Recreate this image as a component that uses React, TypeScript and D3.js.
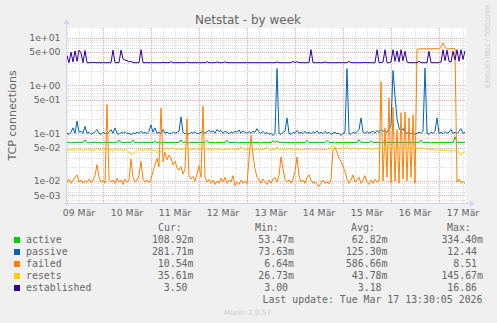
import React from "react";
import * as d3 from "d3";

const W = 497;
const H = 323;
const PL = 66, PT = 28, PW = 400, PH = 175;

const START = new Date(2026, 2, 9, 5, 30);
const END = new Date(2026, 2, 17, 13, 30);
const Y_MIN = 3.48e-3;
const Y_MAX = 15.96;

const seriesNames = ["active", "passive", "failed", "resets", "established"];
const seriesColors = ["#00CC00", "#0066B3", "#FF8000", "#FFCC00", "#330099"];

// one value per hour, starting Mar 9 05:30
const active = [
  0.064,0.064,0.063,0.064,0.064,0.065,0.064,0.064,0.064,0.073,
  0.064,0.063,0.064,0.064,0.065,0.064,0.064,0.063,0.064,0.064,
  0.064,0.064,0.064,0.063,0.064,0.064,0.072,0.064,0.064,0.064,
  0.064,0.064,0.064,0.072,0.064,0.064,0.063,0.064,0.064,0.064,
  0.064,0.064,0.064,0.064,0.070,0.064,0.064,0.063,0.064,0.064,
  0.064,0.064,0.064,0.064,0.064,0.064,0.064,0.073,0.064,0.064,
  0.064,0.063,0.064,0.064,0.064,0.064,0.064,0.064,0.064,0.064,
  0.071,0.064,0.064,0.064,0.063,0.064,0.064,0.064,0.064,0.064,
  0.072,0.064,0.064,0.064,0.064,0.064,0.063,0.064,0.064,0.064,
  0.064,0.064,0.064,0.064,0.064,0.064,0.064,0.063,0.064,0.064,
  0.064,0.064,0.064,0.071,0.064,0.070,0.064,0.064,0.064,0.064,
  0.064,0.064,0.063,0.064,0.064,0.064,0.064,0.064,0.064,0.064,
  0.071,0.064,0.064,0.064,0.064,0.064,0.064,0.064,0.064,0.064,
  0.071,0.064,0.064,0.064,0.063,0.064,0.064,0.064,0.064,0.064,
  0.064,0.064,0.064,0.064,0.064,0.064,0.074,0.064,0.064,0.064,
  0.064,0.064,0.070,0.064,0.064,0.064,0.064,0.063,0.064,0.064,
  0.064,0.064,0.064,0.064,0.064,0.064,0.064,0.064,0.064,0.064,
  0.064,0.064,0.064,0.064,0.064,0.064,0.064,0.072,0.064,0.064,
  0.064,0.064,0.063,0.064,0.064,0.064,0.064,0.064,0.064,0.064,
  0.064,0.064,0.064,0.064,0.085,0.064,0.064,0.064,0.064,0.064,
];

const passive = [
  0.1,0.095,0.105,0.13,0.1,0.18,0.105,0.11,0.1,0.14,
  0.1,0.105,0.095,0.1,0.108,0.12,0.1,0.095,0.105,0.1,
  0.098,0.105,0.12,0.1,0.13,0.1,0.095,0.105,0.1,0.108,
  0.098,0.1,0.094,0.102,0.098,0.105,0.1,0.11,0.1,0.105,
  0.098,0.11,0.15,0.105,0.13,0.1,0.105,0.098,0.12,0.1,
  0.105,0.1,0.098,0.108,0.1,0.105,0.11,0.22,0.105,0.098,
  0.102,0.095,0.105,0.1,0.108,0.098,0.1,0.105,0.11,0.1,
  0.108,0.115,0.105,0.112,0.1,0.12,0.108,0.115,0.1,0.11,
  0.105,0.098,0.108,0.1,0.11,0.105,0.118,0.1,0.112,0.105,
  0.1,0.108,0.1,0.11,0.105,0.125,0.105,0.1,0.11,0.098,
  0.105,0.095,0.1,0.09,0.1,2.25,0.1,0.095,0.105,0.11,
  0.21,0.1,0.095,0.105,0.1,0.115,0.1,0.105,0.098,0.11,
  0.1,0.105,0.098,0.108,0.1,0.112,0.1,0.105,0.098,0.11,
  0.1,0.105,0.095,0.1,0.105,0.098,0.1,0.09,0.1,0.105,
  2.25,0.1,0.095,0.105,0.1,0.108,0.12,0.21,0.105,0.1,
  0.108,0.1,0.105,0.11,0.1,0.115,0.105,0.12,0.11,0.115,
  0.105,0.12,0.15,2.05,0.6,0.2,0.13,0.11,0.125,0.105,
  0.1,0.105,0.098,0.1,0.095,0.1,0.105,0.1,0.11,2.3,
  0.1,0.095,0.105,0.1,0.11,0.21,0.1,0.105,0.098,0.108,
  0.1,0.105,0.12,0.1,0.105,0.098,0.11,0.125,0.1,0.105,
];

const failed = [
  0.0095,0.011,0.009,0.0105,0.012,0.0135,0.0095,0.0105,0.009,0.01,
  0.0095,0.011,0.0092,0.0105,0.013,0.022,0.012,0.0095,0.0105,0.009,
  0.40,0.011,0.0095,0.0105,0.009,0.0115,0.0095,0.0105,0.0085,0.011,
  0.0095,0.0105,0.029,0.012,0.0095,0.0105,0.013,0.026,0.011,0.0095,
  0.0105,0.0092,0.011,0.016,0.022,0.03,0.02,0.34,0.025,0.04,
  0.028,0.035,0.03,0.022,0.026,0.019,0.017,0.02,0.014,0.018,
  0.2,0.013,0.011,0.0125,0.01,0.014,0.021,0.012,0.37,0.012,
  0.0095,0.011,0.009,0.0105,0.0085,0.01,0.009,0.0115,0.0095,0.012,
  0.009,0.0105,0.0095,0.013,0.008,0.0095,0.0085,0.0105,0.009,0.01,
  0.0088,0.03,0.09,0.035,0.018,0.012,0.0105,0.009,0.011,0.0095,
  0.0085,0.0105,0.009,0.011,0.012,0.0095,0.013,0.032,0.018,0.011,
  0.0095,0.0105,0.009,0.011,0.016,0.032,0.013,0.0095,0.0105,0.009,
  0.012,0.0135,0.0105,0.009,0.0095,0.0085,0.0078,0.009,0.0105,0.009,
  0.0095,0.0088,0.011,0.045,0.05,0.04,0.03,0.026,0.02,0.016,
  0.011,0.009,0.0105,0.0135,0.0095,0.0105,0.012,0.009,0.0105,0.013,
  0.0095,0.0085,0.0105,0.009,0.011,0.0095,0.01,1.2,0.01,0.13,
  0.012,0.55,0.009,0.35,0.01,0.12,0.009,0.27,0.011,0.28,
  0.01,0.21,0.012,0.24,0.009,5.7,5.8,5.9,5.8,5.9,
  5.8,5.9,5.8,5.9,5.9,5.8,5.9,6.3,7.8,6.4,
  5.9,5.8,5.9,5.9,5.9,0.0095,0.011,0.0092,0.0098,0.0088,
];

const resets = [
  0.046,0.043,0.047,0.044,0.045,0.048,0.044,0.046,0.042,0.045,
  0.047,0.044,0.046,0.043,0.045,0.049,0.044,0.046,0.043,0.047,
  0.045,0.044,0.046,0.042,0.045,0.047,0.044,0.046,0.043,0.045,
  0.044,0.04,0.037,0.036,0.04,0.044,0.045,0.046,0.043,0.047,
  0.044,0.046,0.045,0.043,0.045,0.041,0.039,0.042,0.045,0.047,
  0.049,0.046,0.048,0.05,0.047,0.046,0.048,0.045,0.047,0.049,
  0.046,0.048,0.045,0.047,0.046,0.048,0.045,0.047,0.053,0.046,
  0.048,0.045,0.047,0.044,0.046,0.048,0.045,0.047,0.044,0.046,
  0.048,0.045,0.047,0.046,0.044,0.047,0.045,0.053,0.047,0.045,
  0.047,0.044,0.046,0.048,0.045,0.047,0.044,0.046,0.045,0.047,
  0.051,0.046,0.044,0.046,0.045,0.052,0.046,0.045,0.047,0.044,
  0.046,0.048,0.045,0.047,0.044,0.046,0.045,0.047,0.044,0.046,
  0.048,0.045,0.047,0.044,0.046,0.045,0.047,0.044,0.046,0.045,
  0.047,0.046,0.05,0.056,0.05,0.047,0.049,0.046,0.05,0.047,
  0.051,0.048,0.046,0.05,0.047,0.049,0.046,0.048,0.047,0.049,
  0.046,0.048,0.047,0.046,0.048,0.047,0.049,0.05,0.048,0.051,
  0.049,0.05,0.052,0.049,0.05,0.048,0.051,0.049,0.05,0.048,
  0.05,0.049,0.051,0.048,0.05,0.049,0.048,0.05,0.049,0.048,
  0.047,0.046,0.045,0.046,0.044,0.045,0.043,0.045,0.044,0.043,
  0.045,0.044,0.042,0.044,0.043,0.042,0.04,0.035,0.04,0.041,
];

const established = [
  4.2,3.0,5.0,3.1,5.3,3.2,5.5,4.8,3.0,5.4,
  3.0,3.0,3.0,3.05,3.0,3.0,3.0,3.0,3.0,3.0,
  3.0,3.0,3.0,5.5,3.0,3.0,3.0,5.5,3.6,3.4,
  3.3,3.1,3.2,3.0,3.0,3.0,3.0,5.6,3.0,3.0,
  3.0,3.0,3.0,3.0,3.0,3.0,3.0,3.0,3.05,3.0,
  3.0,3.0,3.15,3.0,3.0,3.0,3.0,3.0,3.0,3.0,
  3.1,3.0,3.0,3.0,3.0,3.0,3.0,3.0,3.0,3.0,
  3.15,3.0,3.0,3.0,3.0,3.1,3.0,3.0,3.0,3.12,
  3.0,3.0,3.0,3.0,3.0,3.0,3.0,3.0,3.0,3.0,
  3.0,3.0,3.0,3.0,3.0,3.0,3.0,3.0,3.0,3.0,
  3.0,3.0,3.0,3.0,3.0,3.1,3.0,3.0,3.0,3.0,
  3.0,3.0,3.0,3.2,3.0,3.15,3.0,3.0,3.0,3.0,
  3.0,3.0,5.6,3.0,3.0,3.0,3.0,3.0,3.0,3.1,
  3.0,3.0,3.0,3.0,3.0,3.0,3.0,3.0,3.0,3.0,
  3.0,3.2,3.0,3.0,3.0,3.0,3.0,3.0,3.0,3.05,
  3.0,3.0,3.0,3.0,3.0,5.6,3.0,3.0,3.1,5.6,
  3.0,3.0,3.1,5.6,3.2,5.3,3.1,5.6,3.3,5.2,
  3.1,3.0,3.0,3.0,3.0,3.0,3.2,3.0,3.0,3.0,
  3.0,5.2,3.0,3.0,3.0,3.0,3.0,3.1,5.6,3.3,
  5.5,3.2,3.1,5.2,3.4,5.6,3.2,5.6,3.5,5.3,
];

const seriesData = [active, passive, failed, resets, established];

const curVals = ["108.92m", "281.71m", "10.54m", "35.61m", "3.50"];
const minVals = ["53.47m", "73.63m", "6.64m", "26.73m", "3.00"];
const avgVals = ["62.82m", "125.30m", "586.66m", "43.78m", "3.18"];
const maxVals = ["334.40m", "12.44", "8.51", "145.67m", "16.86"];
const colHeaders = ["Cur:", "Min:", "Avg:", "Max:"];

const yTickValues = [5e-3, 1e-2, 5e-2, 1e-1, 5e-1, 1, 5, 10];
const yTickLabels = ["5e-03", "1e-02", "5e-02", "1e-01", "5e-01", "1e+00", "5e+00", "1e+01"];
const dayLabels = ["09 Mär", "10 Mär", "11 Mär", "12 Mär", "13 Mär", "14 Mär", "15 Mär", "16 Mär", "17 Mär"];

const FONT = "'DejaVu Sans', Verdana, sans-serif";
const MONO = "'DejaVu Sans Mono', monospace";
const TXT = "#666666";
const AXIS = "#CFD6F8";

export default function App() {
  const x = d3.scaleTime().domain([START, END]).range([PL, PL + PW]);
  const y = d3.scaleLog().domain([Y_MIN, Y_MAX]).range([PT + PH, PT]);
  const tOf = (i: number) => new Date(START.getTime() + (i + 0.5) * 3600e3);

  const line = d3
    .line<number>()
    .x((_, i) => x(tOf(i)))
    .y((d) => y(d));

  // horizontal grid
  const hMinor: number[] = [];
  const hMajor: number[] = [];
  for (let k = -3; k <= 1; k++) {
    for (let m = 1; m <= 9; m++) {
      const v = m * Math.pow(10, k);
      if (v < Y_MIN || v > Y_MAX) continue;
      if (m === 1 || m === 5) hMajor.push(v);
      else hMinor.push(v);
    }
  }
  const vTimes = d3.timeHour.every(6)!.range(START, END);
  const vMinor = vTimes.filter((t) => t.getHours() !== 0);
  const vMajor = vTimes.filter((t) => t.getHours() === 0);
  const noons = dayLabels.map((_, i) => new Date(2026, 2, 9 + i, 12, 0));

  const charW = 5.96;
  const colRight = [193.5, 294, 387.5, 483];
  const colHeadX = [158, 255, 351, 447];
  const rowBase = (r: number) => 243 + r * 12;
  const valX = (col: number, s: string) =>
    /[0-9]$/.test(s) ? colRight[col] - charW : colRight[col];

  const yAxisTop = PT - 4;
  const xAxisRight = PL + PW + 4;

  return (
    <svg
      width={W}
      height={H}
      style={{ position: "absolute", left: 0, top: 0, display: "block" }}
      xmlns="http://www.w3.org/2000/svg"
    >
      <rect x={0} y={0} width={W} height={H} fill="#F0F0F0" />
      <rect x={PL} y={PT} width={PW} height={PH} fill="#FFFFFF" />
      <defs>
        <clipPath id="plotclip">
          <rect x={PL} y={PT} width={PW + 1} height={PH} />
        </clipPath>
      </defs>

      {/* grid */}
      <g shapeRendering="crispEdges" strokeDasharray="1,1">
        {hMinor.map((v, i) => (
          <line key={"hm" + i} x1={PL} x2={PL + PW} y1={Math.round(y(v)) + 0.5} y2={Math.round(y(v)) + 0.5} stroke="#DDDDDD" />
        ))}
        {vMinor.map((t, i) => (
          <line key={"vm" + i} x1={Math.round(x(t)) + 0.5} x2={Math.round(x(t)) + 0.5} y1={PT} y2={PT + PH} stroke="#DDDDDD" />
        ))}
        {hMajor.map((v, i) => (
          <line key={"hM" + i} x1={PL} x2={PL + PW} y1={Math.round(y(v)) + 0.5} y2={Math.round(y(v)) + 0.5} stroke="#E8A8A8" />
        ))}
        {vMajor.map((t, i) => (
          <line key={"vM" + i} x1={Math.round(x(t)) + 0.5} x2={Math.round(x(t)) + 0.5} y1={PT} y2={PT + PH} stroke="#E8A8A8" />
        ))}
      </g>

      {/* series */}
      <g clipPath="url(#plotclip)" fill="none" strokeWidth={1}>
        {seriesData.map((s, i) => (
          <path key={seriesNames[i]} d={line(s) || ""} stroke={seriesColors[i]} />
        ))}
      </g>

      {/* axes */}
      <g stroke={AXIS} shapeRendering="crispEdges">
        <line x1={PL + 0.5} x2={PL + 0.5} y1={PT + PH + 3} y2={yAxisTop} />
        <line x1={PL - 3} x2={xAxisRight} y1={PT + PH + 0.5} y2={PT + PH + 0.5} />
      </g>
      <polygon
        points={`${PL - 2.5},${yAxisTop} ${PL + 3.5},${yAxisTop} ${PL + 0.5},${yAxisTop - 5}`}
        fill={AXIS}
      />
      <polygon
        points={`${xAxisRight},${PT + PH - 2.5} ${xAxisRight},${PT + PH + 3.5} ${xAxisRight + 5},${PT + PH + 0.5}`}
        fill={AXIS}
      />

      {/* y tick labels */}
      <g fontFamily={FONT} fontSize={9.3} fill={TXT} textAnchor="end">
        {yTickValues.map((v, i) => (
          <text key={"yt" + i} x={60.5} y={y(v) + 3.4}>
            {yTickLabels[i]}
          </text>
        ))}
      </g>

      {/* x tick labels */}
      <g fontFamily={FONT} fontSize={9.3} fill={TXT} textAnchor="middle">
        {noons.map((t, i) => (
          <text key={"xt" + i} x={x(t)} y={216}>
            {dayLabels[i]}
          </text>
        ))}
      </g>

      {/* title */}
      <text x={248} y={24} fontFamily={FONT} fontSize={12} fill={TXT} textAnchor="middle">
        Netstat - by week
      </text>

      {/* y axis title */}
      <text
        transform={`translate(15.5, ${PT + PH / 2}) rotate(-90)`}
        fontFamily={FONT}
        fontSize={11}
        fill={TXT}
        textAnchor="middle"
      >
        TCP connections
      </text>

      {/* watermark */}
      <text
        transform="translate(484.5, 5) rotate(90)"
        fontFamily={FONT}
        fontSize={6.5}
        fill="#CCCCCC"
      >
        RRDTOOL / TOBI OETIKER
      </text>

      {/* legend */}
      <g fontFamily={MONO} fontSize={9.9} fill={TXT}>
        {colHeaders.map((h, i) => (
          <text key={"ch" + i} x={colHeadX[i]} y={231}>
            {h}
          </text>
        ))}
        {seriesNames.map((n, r) => (
          <g key={"lg" + n}>
            <rect x={14} y={rowBase(r) - 6} width={6} height={6} fill={seriesColors[r]} />
            <text x={26} y={rowBase(r)}>{n}</text>
            <text x={valX(0, curVals[r])} y={rowBase(r)} textAnchor="end">{curVals[r]}</text>
            <text x={valX(1, minVals[r])} y={rowBase(r)} textAnchor="end">{minVals[r]}</text>
            <text x={valX(2, avgVals[r])} y={rowBase(r)} textAnchor="end">{avgVals[r]}</text>
            <text x={valX(3, maxVals[r])} y={rowBase(r)} textAnchor="end">{maxVals[r]}</text>
          </g>
        ))}
        <text x={482.5} y={303} textAnchor="end">
          Last update: Tue Mar 17 13:30:05 2026
        </text>
      </g>

      <text x={247.5} y={314.5} fontFamily={FONT} fontSize={7.2} fill="#CCCCCC" textAnchor="middle">
        Munin 2.0.57
      </text>
    </svg>
  );
}
